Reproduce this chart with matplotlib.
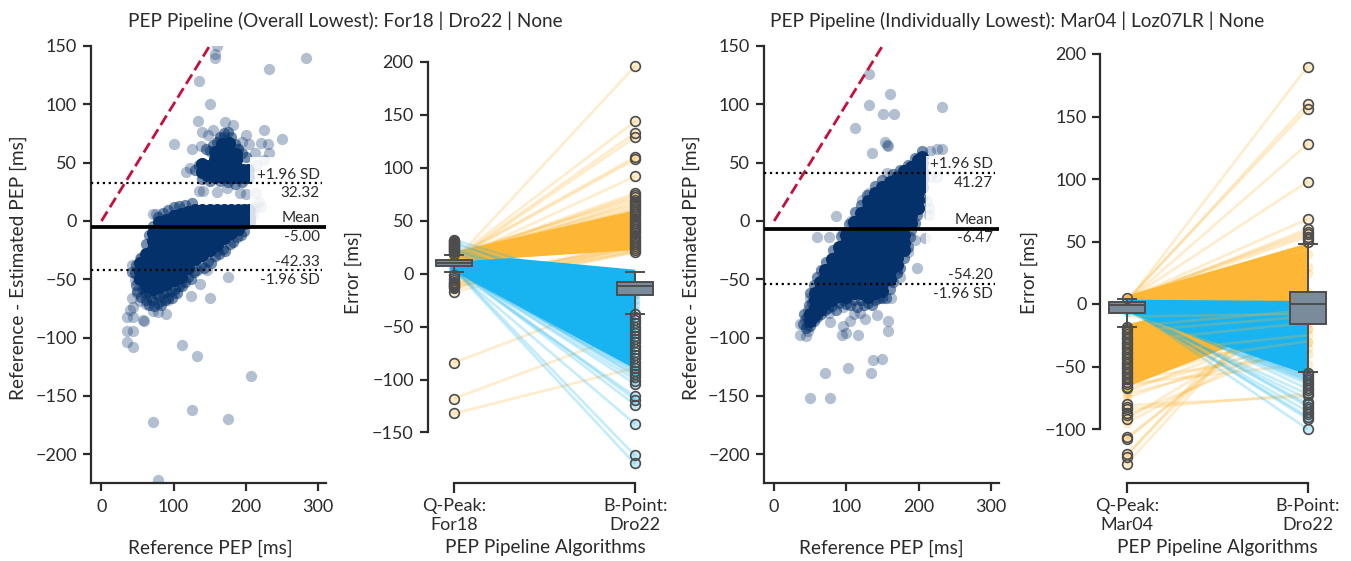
import matplotlib
matplotlib.use("Agg")
import matplotlib.pyplot as plt
from matplotlib.patches import Rectangle

plt.rcParams['font.family'] = ['Lato', 'DejaVu Sans']

W, H = 1351, 561
NAVY = "#04316A"; RED = "#C50F3C"; ORANGE = "#FDB735"; BLUE = "#18B4F1"
TXT = "#2b2b2b"; BOXF = "#7A8B9C"; BOXE = "#4d4d4d"

title_left = "PEP Pipeline (Overall Lowest): For18 | Dro22 | None"
title_right = "PEP Pipeline (Individually Lowest): Mar04 | Loz07LR | None"
stats_left = (32.32, -5.00, -42.33)
stats_right = (41.27, -6.47, -54.20)

# ---------- Panel 1 values ----------
core1 = [
    (54, [-36, -43, -50]),
    (62, [-28, -35, -42, -49, -56]),
    (71, [-10, -17, -24, -31, -38, -45, -52, -58]),
    (80, [-1, -8, -15, -22, -29, -36, -43, -50, -57]),
    (90, [1, -5, -12, -19, -26, -33, -40, -47, -54]),
    (100, [4, -2, -9, -16, -23, -30, -37, -44, -51]),
    (110, [6, 0, -7, -14, -21, -28, -35, -42, -48]),
    (120, [8, 2, -5, -12, -19, -26, -33, -40]),
    (130, [9, 3, -4, -11, -18, -25, -33]),
    (140, [9, 3, -4, -11, -18, -25, -29]),
    (150, [9, 3, -4, -11, -18, -25]),
    (160, [9, 3, -4, -11, -18, -21]),
    (170, [9, 3, -4, -11, -15]),
    (180, [9, 3, -4, -10]),
    (190, [9, 3, -4, -7]),
    (198, [9, 3, -2]),
    (204, [9, 3, -1]),
    (139, [42, 49]),
    (147, [39, 47]),
    (157, [38, 45, 53, 59]),
    (167, [38, 45, 53, 60, 66]),
    (177, [38, 46, 54, 61, 67]),
    (187, [38, 45, 52, 57]),
    (197, [38, 44]),
    (203, [38, 44]),
]
mid1_x = [46, 48, 50, 53, 55, 57, 60, 62, 64, 66, 68, 70, 73, 75, 78, 80, 83, 85, 88, 90, 93, 96, 98, 102, 105, 108, 112,
          116, 120, 124, 128, 133, 138, 142, 148, 152, 158, 163, 168, 172, 178, 183, 188, 193, 198, 62, 66, 72, 78, 85,
          92, 100, 108, 116, 125, 55, 48, 43, 150, 155, 160, 165, 170, 175, 180, 185, 190, 195, 200, 135, 130, 145, 165,
          175, 185, 195, 150, 140]
mid1_y = [-45, -55, -60, -48, -65, -58, -62, -68, -60, -72, -64, -68, -73, -63, -70, -64, -72, -62, -68, -60, -66, -60, -66,
          -58, -62, -56, -56, -52, -48, -50, -44, -42, -38, -40, -34, -36, -30, -28, -24, -26, -20, -18, -14, -12, -9, -20,
          -12, -4, 3, 7, 9, 12, 13, 14, 15, -32, -38, -44, 60, 65, 68, 72, 75, 76, 72, 66, 62, 58, 55, 48, 44, 62, 34, 33,
          32, 33, 34, 36]
fringe1_x = [158, 158, 160, 136, 232, 284, 151, 134, 172, 183, 140, 155, 148, 200, 225, 222, 231, 250, 100, 126, 138,
             205, 213, 232, 117, 123, 135, 141, 160, 174, 192, 201, 214, 222, 212, 225, 215, 71, 76, 42, 53, 176, 160,
             137, 124, 150, 112, 132, 208, 126, 72, 176, 78, 36, 44, 36, 44, 36, 44, 57, 59, 39, 44, 72, 79, 89, 42, 53,
             62, 49, 46, 51, 83, 93, 100, 111, 146, 170, 178, 165, 190, 195, 210, 218]
fringe1_y = [143, 140, 150, 120, 130, 140, 100, 86, 85, 82, 76, 78, 74, 74, 78, 67, 66, 70, 66, 62, 64,
             66, 58, 58, 42, 45, 26, 26, 25, 28, 24, 23, 24, 12, 11, 52, 48, 6, 6, -38, -32, -48, -26,
             -54, -64, -66, -106, -116, -132.5, -162, -172, -170, -222, -104, -108, -94, -94, -82, -82, -85, -86, -76,
             -74, -77, -78, -80, -66, -69, -71, -62, -51, -50, -69, -68, -62, -53, -42, 72, 66, 70, 62, 68, 5, 16]

# ---------- Panel 2 values ----------
p2_orange_core_l = [13, 13, 14, 14, 15, 15, 15, 16, 16, 16, 17, 17, 17, 18, 18, 19, 19]
p2_orange_core_r = [24, 26, 28, 30, 32, 34, 36, 38, 40, 42, 44, 46, 48, 50, 52, 55, 58]
p2_blue_core_l = [18, 17, 17, 16, 16, 15, 15, 14, 14, 13, 13, 12, 12, 11, 11, 10, 10, 10, 9, 9, 9, 8, 8, 8, 7, 7, 7, 6, 6, 6, 5, 5, 5, 4]
p2_blue_core_r = [2, -1, -4, -7, -10, -13, -16, -19, -22, -25, -28, -31, -34, -37, -40, -43, -46, -49, -52, -55, -58, -61, -64, -67, -70, -72, -74, -76, -78, -80, -82, -84, -86, -88]
p2_orange_fr_l = [12, 14, 13, 12, 15, 14, 13, 16, 15, 17, 18, 14, 16, 17, 15, 18, 16, -84, -118, -132, -4, -6, -8, -9, -10, -11, -12, -13, -14, -17]
p2_orange_fr_r = [196, 144, 133, 129, 110, 108, 92, 76, 74, 72, 70, 68, 66, 64, 62, 60, 60, -19, -54, -89, 24, 26, 22, 28, 30, 20, 25, 22, 26, 21]
p2_blue_fr_l = [5, 4, 3, 6, 7, 3, 5, 4, 8, 4, 5, 3, 6, 32, 30, 28, 26, 24, 22, 21]
p2_blue_fr_r = [-172, -180, -142, -124, -119, -116, -104, -100, -97, -95, -93, -91, -90, -20, -35, -25, -42, -55, -30, -62]
p2_left_out = [19, 20, 21, 22, 23, 24, 25, 26, 27, 28, 29, 30, 31, 32, -1, -4, -6, -8, -9, -10, -11, -12, -13, -14, -17, -84, -118, -132]
p2_right_out = [196, 144, 133, 129, 110, 108, 92, 76, 74, 72, 70, 68, 66, 64, 62, 60, 58, 56, 54, 52, 50, 48, 46, 44, 42, 40, 38, 36, 34, 32, 30, 28, 26, 24, 22, 20,
                -38, -41, -44, -47, -50, -53, -56, -59, -62, -65, -68, -71, -74, -77, -80, -83, -86, -89, -92, -95, -98, -101, -104, -116, -119, -124, -142, -171, -179]
p2_box_l = dict(med=10, q1=7.5, q3=12.5, whislo=2, whishi=18)
p2_box_r = dict(med=-12, q1=-20, q3=-8, whislo=-38, whishi=2)

# ---------- Panel 3 values ----------
core3 = [
    (49, [-80, -86]),
    (57, [-62, -68, -75, -81]),
    (63, [-52, -58, -64, -70, -76]),
    (71, [-42, -48, -54, -60, -66, -71]),
    (80, [-33, -39, -45, -51, -57, -63, -68]),
    (90, [-22, -29, -36, -43, -50, -57, -64]),
    (100, [-12, -19, -26, -33, -40, -47, -54, -60, -65]),
    (110, [-1, -7, -14, -21, -28, -35, -42, -49, -56, -62]),
    (120, [7, 1, -6, -13, -20, -27, -34, -41, -48, -55, -62]),
    (130, [17, 11, 4, -3, -10, -17, -24, -31, -38, -45, -52, -59, -65]),
    (140, [24, 18, 11, 4, -3, -10, -17, -24, -31, -38, -45, -53, -62]),
    (150, [29, 23, 16, 9, 2, -5, -12, -19, -26, -33, -40, -47, -54, -60]),
    (160, [33, 27, 20, 13, 6, -1, -8, -15, -22, -29, -36, -43, -50]),
    (170, [37, 31, 24, 17, 10, 3, -4, -11, -18, -25, -32, -38]),
    (180, [43, 37, 30, 23, 16, 9, 2, -5, -12, -19, -25]),
    (190, [46, 40, 33, 26, 19, 12, 5, -2]),
    (199, [52, 46, 39, 32, 25, 18, 11]),
    (205, [55, 50, 43, 36, 29]),
]
mid3_x = [48, 52, 45, 42, 40, 44, 50, 55, 60, 65, 70, 75, 80, 85, 90, 95, 100, 105, 110, 115, 120, 125, 130, 135, 140, 145, 150,
          155, 160, 165, 170, 175, 180, 185, 188, 190, 195, 198, 205, 65, 72, 82, 92, 103, 112, 120, 128, 140, 150, 165, 175,
          185, 195, 205, 60, 55, 50]
mid3_y = [-72, -70, -82, -80, -88, -92, -90, -86, -82, -80, -76, -75, -73, -76, -70, -68, -71, -72, -68, -74, -68, -72, -70, -72,
          -68, -66, -66, -66, -58, -52, -45, -40, -32, -22, -14, -8, -2, 5, 20, -42, -35, -25, -13, -3, 8, 14, 22, 30, 35, 40,
          44, 48, 54, 60, -48, -55, -62]
fringe3_x = [131, 160, 131, 151, 166, 232, 112, 154, 158, 157, 136, 225, 232, 216, 156, 86, 107, 60, 76, 96, 121, 131,
             209, 195, 186, 198, 175, 170, 212, 214, 214, 200, 207, 216, 225, 188,
             49, 54, 162, 158, 158, 142, 126, 116, 99, 94, 96, 105, 77, 76, 96, 110, 119, 36, 36, 44, 47, 45, 43, 47, 54,
             150, 137, 102, 71, 134, 50, 78]
fringe3_y = [126, 109, 99.5, 92, 92, 98, 80, 68, 64, 65, 58, 62, 62, 60, 41, 4, 0, -14, -14, -10, 18, 24,
             -14.5, -16, -27, -40, -48, -44, 17, 11, 5, 10, 41, 38, 38, 1,
             -66, -66, -66, -86, -94, -81, -84, -98, -96, -98, -90, -86, -87, -79, -74, -80, -79, -88, -98, -99, -94, -90, -84, -76, -79,
             -118, -119, -126, -130, -130, -152, -152]

# ---------- Panel 4 values ----------
p4_orange_top_l = [0, 0, 1, 1, 1, 2, 2, 2, 2, 3, 3, 3, 3, 3, 4, 4, 4, 4, 4, 4, 5, 5, 5, 5]
p4_orange_top_r = [0, 2, 4, 6, 8, 10, 12, 14, 16, 18, 20, 22, 24, 26, 28, 30, 32, 34, 36, 38, 40, 42, 45, 47]
p4_orange_low_l = [-18, -20, -22, -24, -26, -28, -30, -32, -34, -36, -38, -40, -42, -44, -46, -48, -50, -52, -54, -56, -58, -60, -62, -65]
p4_orange_low_r = [20, 18, 16, 14, 12, 11, 10, 9, 8, 7, 6, 5, 4, 3, 2, 1, 0, -1, -2, -3, -4, -5, -6, -8]
p4_blue_core_l = [2, 2, 2, 1, 1, 1, 1, 0, 0, 0, 0, -1, -1, -1, -2, -2, -2, -2, -3, -3, -3, -3, -4, -4, -4, -5, -5, -5, -5]
p4_blue_core_r = [1, -1, -3, -5, -7, -9, -11, -13, -15, -17, -19, -21, -23, -25, -27, -29, -31, -33, -35, -37, -39, -41, -43, -45, -47, -49, -51, -53, -55]
p4_orange_fr_l = [1, 2, 3, 2, 3, 4, 3, 4, 5, 4, -128, -122, -120, -108, -107, -95, -92, -89, -84, -81, -67, -64, -62, -60, -70, -72, -75]
p4_orange_fr_r = [190, 160, 156, 128, 98, 68, 60, 58, 56, 54, 30, 40, 25, 10, 5, -20, -5, -30, -72, -74, -30, -48, -20, -40, -15, -35, -25]
p4_over_l = [-30, -22, -40, -18, -50, -10]
p4_over_r = [-15, -10, -25, -5, -30, -8]
p4_blue_fr_l = [-2, -1, -3, -4, 0, -2, -5, -6, 1, -3, -4, -2, -1, 0, -3, -5, -2, -4]
p4_blue_fr_r = [-100, -92, -90, -86, -82, -80, -76, -72, -68, -64, -62, -60, -58, -56, -57, -55, -59, -61]
p4_left_out = [4.5, -18, -20, -22, -24, -26, -28, -30, -32, -34, -36, -38, -40, -42, -44, -46, -48, -50, -52, -54, -56, -58, -60, -62, -64, -66, -67,
               -80, -82, -84, -87, -89, -92, -106, -108, -120, -122, -128]
p4_right_out = [190, 160, 156, 128, 98, 68, 60, 58, 56, 54, 52, 50,
                -55, -57, -59, -61, -63, -65, -67, -69, -71, -73, -78, -80, -82, -84, -86, -88, -90, -92, -100]
p4_box_l = dict(med=-1, q1=-7, q3=2, whislo=-18, whishi=3.7)
p4_box_r = dict(med=0, q1=-16, q3=10, whislo=-54, whishi=48)

fig = plt.figure(figsize=(W / 100, H / 100), dpi=100)


def make_ax(l, r, t=46, b=483):
    ax = fig.add_axes([l / W, 1 - b / H, (r - l) / W, (b - t) / H])
    ax.set_facecolor("none")
    for s in ("top", "right"):
        ax.spines[s].set_visible(False)
    for s in ("left", "bottom"):
        ax.spines[s].set_linewidth(1.6)
        ax.spines[s].set_color(TXT)
    ax.tick_params(width=1.6, length=6, color=TXT, labelcolor=TXT, labelsize=13, pad=4)
    ax.tick_params(axis="x", pad=5.5)
    return ax


def label_coords(axis, px, py):
    axis.set_label_coords(px / W, 1 - py / H, transform=fig.transFigure)


def bland_altman(ax, core, mx, my, fx, fy, stats, fade, ylab_x, xlab_x):
    ax.set_xlim(-14.5, 311.5)
    ax.set_ylim(-224.6, 150)
    cx = [c[0] for c in core for _ in c[1]]
    cy = [v for c in core for v in c[1]]
    ax.scatter(fx, fy, s=66, color=NAVY, alpha=0.3, linewidths=0, zorder=2)
    ax.scatter(mx, my, s=66, color=NAVY, alpha=0.55, linewidths=0, zorder=2)
    ax.scatter(cx, cy, s=88, color=NAVY, alpha=1, linewidths=0, zorder=2)
    ax.add_patch(Rectangle((fade[0], fade[1]), 110, fade[2] - fade[1], facecolor="white", alpha=0.85,
                           edgecolor="none", zorder=3))
    ax.plot([0, 160], [0, 160], color=RED, lw=2, ls=(0, (4, 1.8)), zorder=4)
    up, mean, lo = stats
    ax.axhline(mean, color="black", lw=2.7, zorder=5)
    ax.axhline(up, xmax=0.985, color="black", lw=1.6, ls=":", zorder=5)
    ax.axhline(lo, xmax=0.985, color="black", lw=1.6, ls=":", zorder=5)
    tx = 303
    kw = dict(ha="right", fontsize=11, color=TXT, zorder=6)
    ax.text(tx, up + 1.5, "+1.96 SD", va="bottom", **kw)
    ax.text(tx, up - 2.5, f"{up:.2f}", va="top", **kw)
    ax.text(tx, mean + 1.5, "Mean", va="bottom", **kw)
    ax.text(tx, mean - 2.5, f"{mean:.2f}", va="top", **kw)
    ax.text(tx, lo + 1.5, f"{lo:.2f}", va="bottom", **kw)
    ax.text(tx, lo - 2.5, "-1.96 SD", va="top", **kw)
    ax.set_xticks([0, 100, 200, 300])
    ax.set_yticks([-200, -150, -100, -50, 0, 50, 100, 150])
    ax.set_xlabel("Reference PEP [ms]", fontsize=13.7, color=TXT)
    ax.set_ylabel("Reference - Estimated PEP [ms]", fontsize=13.7, color=TXT)
    label_coords(ax.xaxis, xlab_x, 539.5)
    label_coords(ax.yaxis, ylab_x, 268)


def pair_lines(ax, left, right, color, alpha, lw, z, markers=False):
    for a, b in zip(left, right):
        ax.plot([0, 1], [a, b], color=color, alpha=alpha, lw=lw, zorder=z,
                marker="o" if markers else None, ms=7, mew=0, solid_capstyle="butt")


def boxes(ax, box_l, box_r, out_l, out_r):
    stats = [dict(box_l, fliers=out_l), dict(box_r, fliers=out_r)]
    line = dict(color=BOXE, linewidth=1.4)
    ax.bxp(stats, positions=[0, 1], widths=0.2, patch_artist=True, zorder=8, manage_ticks=False,
           boxprops=dict(facecolor=BOXF, edgecolor=BOXE, linewidth=1.4),
           medianprops=line, whiskerprops=line, capprops=line, capwidths=0.1,
           flierprops=dict(marker="o", markerfacecolor="none", markeredgecolor=BOXE, markersize=7, markeredgewidth=1.2))


def finish_pair(ax, ylim, yticks, names, ylab_x, xlab_x):
    ax.set_xlim(-0.146, 1.146)
    ax.set_ylim(*ylim)
    ax.set_xticks([0, 1], names)
    ax.set_yticks(yticks)
    ax.spines["left"].set_bounds(min(yticks), max(yticks))
    ax.spines["bottom"].set_bounds(0, 1)
    ax.tick_params(axis="x", length=7, pad=4)
    ax.set_xlabel("PEP Pipeline Algorithms", fontsize=13.7, color=TXT)
    ax.set_ylabel("Error [ms]", fontsize=13.7, color=TXT)
    label_coords(ax.xaxis, xlab_x, 539.5)
    label_coords(ax.yaxis, ylab_x, 273)


ax1 = make_ax(91, 326)
ax2 = make_ax(427.7, 661.6)
ax3 = make_ax(763.7, 999)
ax4 = make_ax(1100.3, 1334)

bland_altman(ax1, core1, mid1_x, mid1_y, fringe1_x, fringe1_y, stats_left, (206, -30, 55), 27, 210)
bland_altman(ax3, core3, mid3_x, mid3_y, fringe3_x, fringe3_y, stats_right, (211, -30, 56), 700, 881)

pair_lines(ax2, p2_orange_fr_l, p2_orange_fr_r, ORANGE, 0.25, 1.9, 2, True)
pair_lines(ax2, p2_blue_core_l, p2_blue_core_r, BLUE, 1, 2.6, 3)
pair_lines(ax2, p2_orange_core_l, p2_orange_core_r, ORANGE, 1, 2.6, 4)
pair_lines(ax2, p2_blue_fr_l, p2_blue_fr_r, BLUE, 0.25, 1.9, 5, True)
boxes(ax2, p2_box_l, p2_box_r, p2_left_out, p2_right_out)
finish_pair(ax2, (-197.7, 215), [-150, -100, -50, 0, 50, 100, 150, 200], ["Q-Peak:\nFor18", "B-Point:\nDro22"], 362, 545)

pair_lines(ax4, p4_orange_fr_l, p4_orange_fr_r, ORANGE, 0.25, 1.9, 2, True)
pair_lines(ax4, p4_orange_top_l, p4_orange_top_r, ORANGE, 1, 2.6, 3)
pair_lines(ax4, p4_orange_low_l, p4_orange_low_r, ORANGE, 1, 2.6, 3)
pair_lines(ax4, p4_blue_core_l, p4_blue_core_r, BLUE, 1, 2.6, 4)
pair_lines(ax4, p4_blue_fr_l, p4_blue_fr_r, BLUE, 0.25, 1.9, 5, True)
pair_lines(ax4, p4_over_l, p4_over_r, ORANGE, 0.25, 1.9, 6)
boxes(ax4, p4_box_l, p4_box_r, p4_left_out, p4_right_out)
finish_pair(ax4, (-143.2, 206.4), [-100, -50, 0, 50, 100, 150, 200], ["Q-Peak:\nMar04", "B-Point:\nDro22"], 1038, 1217)

fig.text(345 / W, 1 - 20.5 / H, title_left, ha="center", va="center", fontsize=13.7, color=TXT)
fig.text(1017 / W, 1 - 20.5 / H, title_right, ha="center", va="center", fontsize=13.7, color=TXT)

fig.savefig("out.png", dpi=100)
